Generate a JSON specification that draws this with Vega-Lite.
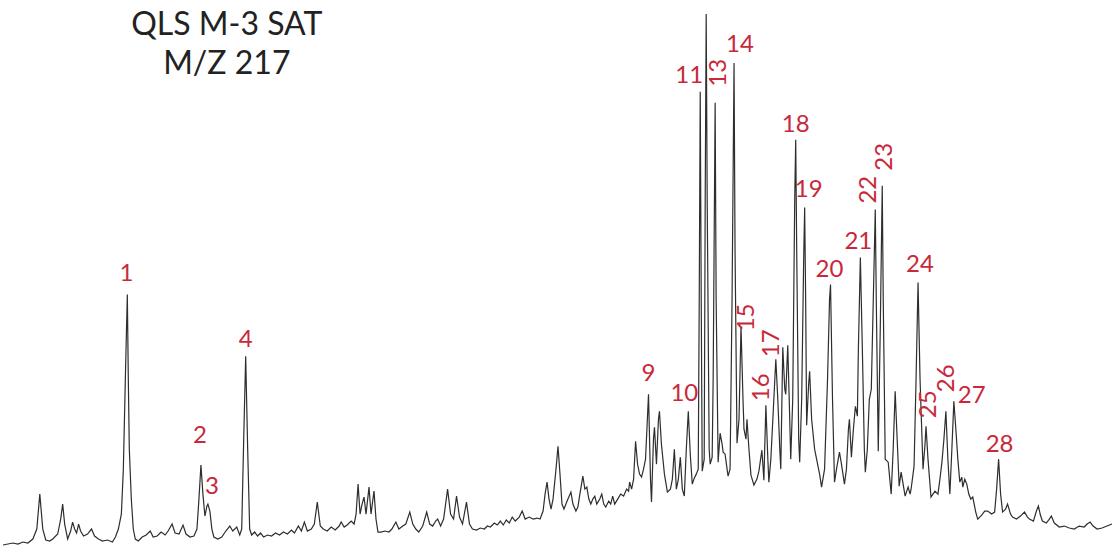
{
  "$schema": "https://vega.github.io/schema/vega-lite/v6.json",
  "width": 1115,
  "height": 548,
  "autosize": {"type": "fit", "contains": "padding"},
  "padding": 0,
  "background": "white",
  "config": {"view": {"stroke": null}},
  "datasets": {
    "trace": [
      {"x":0,"y":546},{"x":5,"y":545},{"x":10,"y":544},{"x":15,"y":545},{"x":20,"y":543},{"x":25,"y":544},{"x":30,"y":540},{"x":34,"y":530},{"x":37,"y":495},{"x":40,"y":530},{"x":43,"y":541},{"x":47,"y":542},{"x":50,"y":540},{"x":55,"y":535},{"x":58,"y":520},{"x":60,"y":505},{"x":62,"y":525},{"x":65,"y":540},{"x":68,"y":532},{"x":70,"y":523},{"x":72,"y":530},{"x":74,"y":534},{"x":76,"y":525},{"x":78,"y":532},{"x":81,"y":537},{"x":85,"y":535},{"x":89,"y":530},{"x":92,"y":537},{"x":96,"y":540},{"x":100,"y":542},{"x":105,"y":541},{"x":110,"y":543},{"x":113,"y":538},{"x":116,"y":530},{"x":119,"y":515},{"x":121,"y":470},{"x":123,"y":380},{"x":125,"y":295},{"x":126,"y":380},{"x":127,"y":450},{"x":129,"y":500},{"x":131,"y":530},{"x":133,"y":540},{"x":136,"y":542},{"x":140,"y":538},{"x":144,"y":536},{"x":148,"y":532},{"x":151,"y":538},{"x":155,"y":537},{"x":159,"y":533},{"x":163,"y":536},{"x":166,"y":532},{"x":170,"y":525},{"x":173,"y":534},{"x":177,"y":535},{"x":181,"y":526},{"x":184,"y":535},{"x":188,"y":538},{"x":192,"y":537},{"x":195,"y":530},{"x":197,"y":500},{"x":199,"y":466},{"x":201,"y":495},{"x":203,"y":517},{"x":205,"y":507},{"x":206,"y":505},{"x":208,"y":512},{"x":210,"y":530},{"x":212,"y":538},{"x":216,"y":540},{"x":220,"y":538},{"x":224,"y":532},{"x":228,"y":527},{"x":231,"y":532},{"x":235,"y":528},{"x":238,"y":536},{"x":240,"y":530},{"x":242,"y":440},{"x":244,"y":357},{"x":246,"y":450},{"x":248,"y":530},{"x":250,"y":536},{"x":253,"y":533},{"x":256,"y":537},{"x":259,"y":534},{"x":262,"y":538},{"x":266,"y":536},{"x":270,"y":537},{"x":274,"y":534},{"x":278,"y":536},{"x":282,"y":533},{"x":286,"y":535},{"x":290,"y":531},{"x":293,"y":534},{"x":297,"y":527},{"x":300,"y":532},{"x":303,"y":523},{"x":306,"y":532},{"x":310,"y":530},{"x":313,"y":525},{"x":316,"y":503},{"x":319,"y":527},{"x":322,"y":530},{"x":326,"y":532},{"x":330,"y":528},{"x":334,"y":531},{"x":338,"y":527},{"x":340,"y":523},{"x":343,"y":528},{"x":346,"y":526},{"x":350,"y":522},{"x":353,"y":525},{"x":355,"y":515},{"x":357,"y":485},{"x":359,"y":515},{"x":361,"y":505},{"x":363,"y":498},{"x":365,"y":515},{"x":368,"y":488},{"x":370,"y":515},{"x":373,"y":492},{"x":375,"y":520},{"x":377,"y":533},{"x":380,"y":533},{"x":384,"y":532},{"x":388,"y":533},{"x":391,"y":530},{"x":395,"y":523},{"x":398,"y":530},{"x":402,"y":527},{"x":405,"y":525},{"x":409,"y":513},{"x":412,"y":525},{"x":415,"y":530},{"x":418,"y":533},{"x":422,"y":527},{"x":426,"y":513},{"x":429,"y":525},{"x":432,"y":527},{"x":435,"y":522},{"x":437,"y":520},{"x":440,"y":527},{"x":443,"y":520},{"x":447,"y":490},{"x":450,"y":515},{"x":453,"y":520},{"x":456,"y":497},{"x":459,"y":518},{"x":462,"y":525},{"x":466,"y":503},{"x":469,"y":525},{"x":472,"y":530},{"x":476,"y":531},{"x":480,"y":529},{"x":484,"y":530},{"x":487,"y":527},{"x":490,"y":528},{"x":494,"y":524},{"x":497,"y":526},{"x":500,"y":522},{"x":503,"y":526},{"x":506,"y":521},{"x":509,"y":524},{"x":512,"y":518},{"x":515,"y":522},{"x":519,"y":518},{"x":522,"y":512},{"x":525,"y":520},{"x":529,"y":518},{"x":533,"y":520},{"x":537,"y":519},{"x":540,"y":520},{"x":543,"y":512},{"x":545,"y":495},{"x":547,"y":483},{"x":549,"y":500},{"x":551,"y":510},{"x":553,"y":500},{"x":556,"y":470},{"x":558,"y":447},{"x":560,"y":475},{"x":562,"y":505},{"x":564,"y":510},{"x":566,"y":505},{"x":568,"y":500},{"x":571,"y":493},{"x":573,"y":505},{"x":576,"y":512},{"x":578,"y":508},{"x":580,"y":495},{"x":583,"y":477},{"x":585,"y":490},{"x":587,"y":488},{"x":589,"y":500},{"x":591,"y":505},{"x":593,"y":500},{"x":595,"y":497},{"x":597,"y":505},{"x":600,"y":500},{"x":602,"y":495},{"x":604,"y":505},{"x":606,"y":508},{"x":609,"y":502},{"x":611,"y":505},{"x":613,"y":497},{"x":615,"y":505},{"x":618,"y":500},{"x":621,"y":495},{"x":624,"y":497},{"x":627,"y":490},{"x":629,"y":492},{"x":630,"y":483},{"x":632,"y":490},{"x":634,"y":480},{"x":636,"y":442},{"x":638,"y":465},{"x":640,"y":475},{"x":642,"y":478},{"x":644,"y":470},{"x":646,"y":460},{"x":649,"y":395},{"x":651,"y":480},{"x":652,"y":503},{"x":654,"y":440},{"x":655,"y":428},{"x":657,"y":465},{"x":659,"y":420},{"x":660,"y":412},{"x":662,"y":445},{"x":665,"y":475},{"x":668,"y":493},{"x":671,"y":490},{"x":673,"y":480},{"x":675,"y":450},{"x":677,"y":490},{"x":679,"y":480},{"x":681,"y":458},{"x":683,"y":490},{"x":685,"y":497},{"x":687,"y":450},{"x":689,"y":412},{"x":691,"y":455},{"x":693,"y":485},{"x":695,"y":479},{"x":697,"y":475},{"x":699,"y":470},{"x":700,"y":300},{"x":701,"y":92},{"x":702,"y":300},{"x":703,"y":472},{"x":705,"y":460},{"x":706,"y":200},{"x":707,"y":14},{"x":708,"y":200},{"x":710,"y":450},{"x":711,"y":465},{"x":713,"y":458},{"x":714,"y":380},{"x":716,"y":103},{"x":717,"y":300},{"x":719,"y":463},{"x":721,"y":434},{"x":723,"y":445},{"x":724,"y":453},{"x":726,"y":455},{"x":728,"y":470},{"x":729,"y":477},{"x":731,"y":470},{"x":733,"y":300},{"x":735,"y":63},{"x":736,"y":250},{"x":738,"y":444},{"x":740,"y":420},{"x":742,"y":327},{"x":744,"y":400},{"x":745,"y":430},{"x":747,"y":440},{"x":748,"y":420},{"x":750,"y":450},{"x":752,"y":476},{"x":755,"y":486},{"x":758,"y":480},{"x":760,"y":472},{"x":763,"y":451},{"x":765,"y":481},{"x":767,"y":406},{"x":769,"y":460},{"x":770,"y":483},{"x":772,"y":460},{"x":774,"y":420},{"x":777,"y":360},{"x":779,"y":400},{"x":781,"y":450},{"x":782,"y":470},{"x":784,"y":348},{"x":786,"y":390},{"x":787,"y":395},{"x":789,"y":346},{"x":791,"y":420},{"x":792,"y":460},{"x":794,"y":400},{"x":796,"y":200},{"x":797,"y":140},{"x":798,"y":250},{"x":800,"y":440},{"x":801,"y":463},{"x":803,"y":400},{"x":805,"y":260},{"x":806,"y":208},{"x":807,"y":300},{"x":808,"y":426},{"x":810,"y":385},{"x":811,"y":372},{"x":813,"y":420},{"x":816,"y":450},{"x":818,"y":460},{"x":821,"y":475},{"x":823,"y":488},{"x":826,"y":470},{"x":829,"y":380},{"x":831,"y":300},{"x":832,"y":285},{"x":834,"y":400},{"x":836,"y":483},{"x":838,"y":470},{"x":841,"y":453},{"x":843,"y":465},{"x":846,"y":485},{"x":848,"y":470},{"x":850,"y":430},{"x":851,"y":420},{"x":853,"y":458},{"x":855,"y":430},{"x":857,"y":407},{"x":859,"y":417},{"x":860,"y":350},{"x":862,"y":258},{"x":864,"y":350},{"x":866,"y":450},{"x":867,"y":473},{"x":869,"y":450},{"x":871,"y":400},{"x":873,"y":390},{"x":875,"y":300},{"x":877,"y":210},{"x":878,"y":300},{"x":880,"y":452},{"x":882,"y":330},{"x":884,"y":186},{"x":885,"y":300},{"x":887,"y":460},{"x":890,"y":463},{"x":893,"y":495},{"x":895,"y":450},{"x":897,"y":392},{"x":899,"y":440},{"x":901,"y":487},{"x":903,"y":473},{"x":905,"y":485},{"x":907,"y":497},{"x":910,"y":488},{"x":912,"y":495},{"x":913,"y":490},{"x":916,"y":467},{"x":918,"y":380},{"x":920,"y":283},{"x":922,"y":380},{"x":925,"y":470},{"x":927,"y":445},{"x":928,"y":427},{"x":930,"y":460},{"x":933,"y":498},{"x":935,"y":495},{"x":937,"y":492},{"x":940,"y":495},{"x":942,"y":480},{"x":944,"y":463},{"x":946,"y":440},{"x":948,"y":412},{"x":950,"y":460},{"x":952,"y":495},{"x":954,"y":450},{"x":956,"y":402},{"x":958,"y":430},{"x":960,"y":460},{"x":962,"y":483},{"x":964,"y":478},{"x":965,"y":488},{"x":967,"y":480},{"x":969,"y":485},{"x":971,"y":495},{"x":973,"y":500},{"x":975,"y":498},{"x":978,"y":513},{"x":980,"y":520},{"x":984,"y":516},{"x":987,"y":512},{"x":990,"y":512},{"x":994,"y":515},{"x":997,"y":513},{"x":999,"y":490},{"x":1001,"y":460},{"x":1003,"y":495},{"x":1005,"y":513},{"x":1008,"y":510},{"x":1010,"y":505},{"x":1013,"y":515},{"x":1015,"y":518},{"x":1019,"y":520},{"x":1023,"y":517},{"x":1027,"y":513},{"x":1030,"y":518},{"x":1032,"y":520},{"x":1036,"y":522},{"x":1039,"y":512},{"x":1041,"y":507},{"x":1043,"y":516},{"x":1045,"y":522},{"x":1049,"y":524},{"x":1052,"y":520},{"x":1054,"y":517},{"x":1057,"y":524},{"x":1062,"y":528},{"x":1067,"y":527},{"x":1072,"y":529},{"x":1077,"y":530},{"x":1082,"y":527},{"x":1087,"y":528},{"x":1090,"y":525},{"x":1093,"y":523},{"x":1096,"y":527},{"x":1100,"y":530},{"x":1105,"y":529},{"x":1110,"y":527},{"x":1115,"y":525}
    ],
    "labels": [
      {"label":"1","x":124,"y":275,"rot":0},
      {"label":"2","x":198,"y":437,"rot":0},
      {"label":"3","x":210,"y":488,"rot":0},
      {"label":"4","x":244,"y":341,"rot":0},
      {"label":"9","x":649,"y":375,"rot":0},
      {"label":"10","x":685,"y":395,"rot":0},
      {"label":"11","x":690,"y":76,"rot":0},
      {"label":"13","x":720,"y":73,"rot":270},
      {"label":"14","x":741,"y":45,"rot":0},
      {"label":"15","x":748,"y":318,"rot":270},
      {"label":"16","x":763,"y":388,"rot":270},
      {"label":"17","x":773,"y":344,"rot":270},
      {"label":"18","x":797,"y":125,"rot":0},
      {"label":"19","x":810,"y":190,"rot":0},
      {"label":"20","x":831,"y":270,"rot":0},
      {"label":"21","x":860,"y":242,"rot":0},
      {"label":"22","x":871,"y":190,"rot":270},
      {"label":"23","x":887,"y":157,"rot":270},
      {"label":"24","x":922,"y":265,"rot":0},
      {"label":"25","x":931,"y":405,"rot":270},
      {"label":"26","x":949,"y":379,"rot":270},
      {"label":"27","x":974,"y":397,"rot":0},
      {"label":"28","x":1002,"y":446,"rot":0}
    ],
    "title": [
      {"text":"QLS M-3 SAT","x":225,"y":25},
      {"text":"M/Z 217","x":225,"y":64}
    ]
  },
  "layer": [
    {
      "data": {"name": "trace"},
      "mark": {"type": "line", "color": "#2e2e2e", "strokeWidth": 1.2, "interpolate": "linear"},
      "encoding": {
        "x": {"field": "x", "type": "quantitative", "scale": {"domain": [0, 1115], "nice": false, "zero": false}, "axis": null},
        "y": {"field": "y", "type": "quantitative", "scale": {"domain": [0, 548], "nice": false, "zero": false, "reverse": true}, "axis": null}
      }
    },
    {
      "data": {"name": "labels"},
      "transform": [{"filter": "datum.rot == 0"}],
      "mark": {"type": "text", "color": "#c8283a", "font": "Lato", "fontSize": 24, "align": "center", "baseline": "middle"},
      "encoding": {
        "x": {"field": "x", "type": "quantitative"},
        "y": {"field": "y", "type": "quantitative"},
        "text": {"field": "label"}
      }
    },
    {
      "data": {"name": "labels"},
      "transform": [{"filter": "datum.rot != 0"}],
      "mark": {"type": "text", "color": "#c8283a", "font": "Lato", "fontSize": 24, "align": "center", "baseline": "middle", "angle": 270},
      "encoding": {
        "x": {"field": "x", "type": "quantitative"},
        "y": {"field": "y", "type": "quantitative"},
        "text": {"field": "label"}
      }
    },
    {
      "data": {"name": "title"},
      "mark": {"type": "text", "color": "#222222", "font": "Lato", "fontSize": 32, "align": "center", "baseline": "middle"},
      "encoding": {
        "x": {"field": "x", "type": "quantitative"},
        "y": {"field": "y", "type": "quantitative"},
        "text": {"field": "text"}
      }
    }
  ]
}
